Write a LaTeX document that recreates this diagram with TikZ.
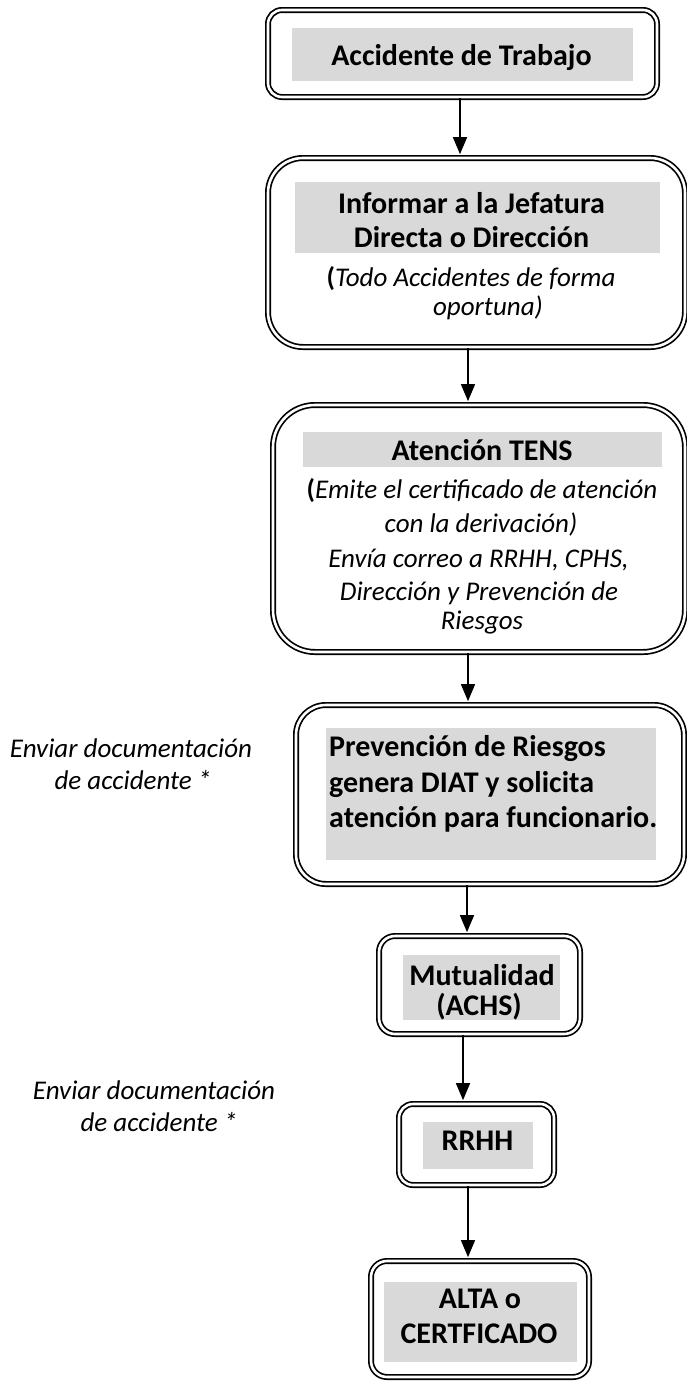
\documentclass[tikz,border=0pt]{standalone}
\usepackage{fontspec}
\setmainfont{Carlito}
\usetikzlibrary{arrows.meta}
\definecolor{hl}{RGB}{217,217,217}
\begin{document}
\begin{tikzpicture}[x=1pt,y=-1pt,
  dbox/.style={draw, double, double distance=2.6pt, line width=1.7pt, inner sep=0pt, rectangle},
  bt/.style={font=\fontsize{30}{36}\selectfont\bfseries, inner sep=0pt, anchor=base},
  it/.style={font=\fontsize{27}{33}\selectfont\itshape, inner sep=0pt, anchor=base},
  arr/.style={line width=1.5pt, -{Triangle[length=17pt,width=14pt]}, shorten >=3pt}]
\useasboundingbox (0,0) rectangle (687,1382);
% boxes
\node[dbox, rounded corners=14pt, minimum width=389pt, minimum height=87pt] (b1) at (462.5,53.5) {};
\node[dbox, rounded corners=35pt, minimum width=417pt, minimum height=189pt] (b2) at (476.5,252.5) {};
\node[dbox, rounded corners=42pt, minimum width=412pt, minimum height=247pt] (b3) at (479,528.5) {};
\node[dbox, rounded corners=30pt, minimum width=388pt, minimum height=179pt] (b4) at (490,794.5) {};
\node[dbox, rounded corners=16pt, minimum width=201pt, minimum height=98pt] (b5) at (479.5,985) {};
\node[dbox, rounded corners=14pt, minimum width=155pt, minimum height=81pt] (b6) at (476.5,1144.5) {};
\node[dbox, rounded corners=16pt, minimum width=218pt, minimum height=116pt] (b7) at (480,1319) {};
% highlights
\fill[hl] (292,28) rectangle (633,81);
\fill[hl] (295,182) rectangle (660,253);
\fill[hl] (303,432) rectangle (662,467);
\fill[hl] (326,728) rectangle (656,860);
\fill[hl] (403,955) rectangle (560,1020);
\fill[hl] (423,1122) rectangle (533,1169);
\fill[hl] (384,1282) rectangle (577,1362);
% texts
\node[bt] (t1) at (461.5,65) {Accidente de Trabajo};
\node[bt] (t2a) at (471.5,213) {Informar a la Jefatura};
\node[bt] (t2b) at (471.5,247) {Directa o Dirección};
\node[it] (t2c) at (471,286) {{\bfseries\upshape(}Todo Accidentes de forma};
\node[it] (t2d) at (488,315) {oportuna)};
\node[bt] (t3a) at (482,460) {Atención TENS};
\begin{scope}
\clip (270,470) rectangle (690,633);
\node[it] (t3b) at (482,498) {{\bfseries\upshape(}Emite el certificado de atención};
\node[it] (t3c) at (481,532) {con la derivación)};
\node[it] (t3d) at (478.5,567) {Envía correo a RRHH, CPHS,};
\node[it] (t3e) at (479,600) {Dirección y Prevención de};
\node[it] (t3f) at (482,629) {Riesgos};
\end{scope}
\node[bt, anchor=base west] (t4a) at (329,756) {Prevención de Riesgos};
\node[bt, anchor=base west] (t4b) at (329,792) {genera DIAT y solicita};
\node[bt, anchor=base west] (t4c) at (329,827) {atención para funcionario.};
\node[bt] (t5a) at (482,985) {Mutualidad};
\node[bt] (t5b) at (479,1015) {(ACHS)};
\node[bt] (t6) at (477.5,1150) {RRHH};
\node[bt] (t7a) at (480,1308) {ALTA o};
\node[bt] (t7b) at (479,1343) {CERTFICADO};
\node[it] (l1a) at (131,757) {Enviar documentación};
\node[it] (l1b) at (133,789) {de accidente *};
\node[it] (l2a) at (154,1099) {Enviar documentación};
\node[it] (l2b) at (159,1131) {de accidente *};
% arrows
\draw[arr] (b1.south -| 460,0) -- (b2.north -| 460,0);
\draw[arr] (b2.south -| 468,0) -- (b3.north -| 468,0);
\draw[arr] (b3.south -| 468,0) -- (b4.north -| 468,0);
\draw[arr] (b4.south -| 467,0) -- (b5.north -| 467,0);
\draw[arr] (b5.south -| 463,0) -- (b6.north -| 463,0);
\draw[arr] (b6.south -| 468,0) -- (b7.north -| 468,0);
\end{tikzpicture}
\end{document}
